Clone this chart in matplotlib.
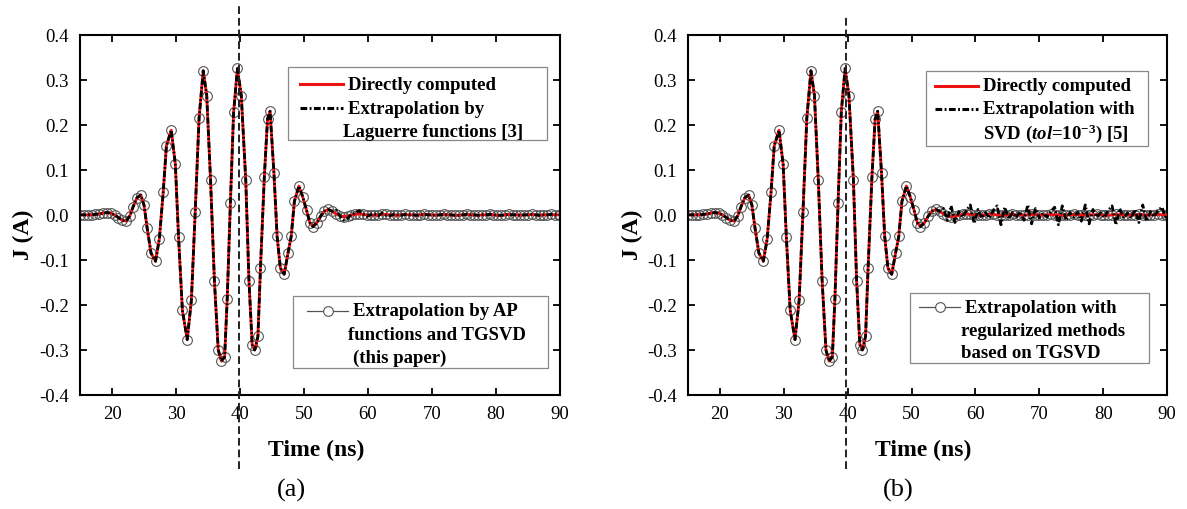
import matplotlib
matplotlib.use('Agg')
import matplotlib.pyplot as plt
from matplotlib.lines import Line2D
from matplotlib.patches import Rectangle

plt.rcParams['font.family'] = ['Liberation Serif', 'DejaVu Serif']
plt.rcParams['axes.unicode_minus'] = False
plt.rcParams['mathtext.fontset'] = 'custom'
plt.rcParams['mathtext.rm'] = 'Liberation Serif:bold'
plt.rcParams['mathtext.it'] = 'Liberation Serif:italic:bold'
plt.rcParams['mathtext.bf'] = 'Liberation Serif:bold'

# ---------------- data ----------------
t_main = [15.0, 15.6, 16.2, 16.8, 17.4, 18.0, 18.6, 19.2, 19.8, 20.4,
          21.0, 21.6, 22.2, 22.8, 23.3, 23.9, 24.5, 25.0, 25.5, 26.1,
          26.8, 27.4, 28.0, 28.5, 29.25, 29.9, 30.4, 31.0, 31.75, 32.4,
          33.0, 33.6, 34.25, 34.8, 35.4, 36.0, 36.6, 37.1, 37.6, 38.0,
          38.5, 39.0, 39.6, 40.2, 40.9, 41.4, 41.9, 42.3, 42.8, 43.2,
          43.8, 44.3, 44.7, 45.3, 45.8, 46.3, 46.9, 47.5, 48.0, 48.5,
          49.2, 49.8, 50.4, 50.9, 51.4, 52.0, 52.6, 53.2, 53.8, 54.4]
j_main = [0.000, 0.000, 0.000, 0.000, 0.001, 0.002, 0.004, 0.005, 0.004, 0.000,
          -0.006, -0.012, -0.014, -0.002, 0.018, 0.038, 0.044, 0.022, -0.030, -0.085,
          -0.103, -0.053, 0.050, 0.153, 0.188, 0.112, -0.050, -0.212, -0.277, -0.190,
          0.006, 0.214, 0.320, 0.265, 0.077, -0.146, -0.300, -0.325, -0.315, -0.187,
          0.027, 0.228, 0.325, 0.265, 0.077, -0.146, -0.288, -0.300, -0.270, -0.117,
          0.084, 0.213, 0.230, 0.093, -0.048, -0.118, -0.132, -0.085, -0.048, 0.030,
          0.064, 0.040, 0.010, -0.017, -0.026, -0.018, -0.003, 0.008, 0.012, 0.008]

t_tail = [55.0, 55.6, 56.2, 56.8, 57.4, 58.0, 58.6, 59.2, 59.8, 60.4,
          61.0, 61.6, 62.2, 62.8, 63.4, 64.0, 64.6, 65.2, 65.8, 66.4,
          67.0, 67.6, 68.2, 68.8, 69.4, 70.0, 70.6, 71.2, 71.8, 72.4,
          73.0, 73.6, 74.2, 74.8, 75.4, 76.0, 76.6, 77.2, 77.8, 78.4,
          79.0, 79.6, 80.2, 80.8, 81.4, 82.0, 82.6, 83.2, 83.8, 84.4,
          85.0, 85.6, 86.2, 86.8, 87.4, 88.0, 88.6, 89.2, 89.8, 90.0]
direct_tail = [0.002, -0.002, -0.004, -0.003, -0.001, 0.001, 0.002, 0.001, 0.000, -0.001,
               -0.001, 0.000, 0.001, 0.001, 0.000, -0.001, -0.001, 0.000, 0.001, 0.000,
               0.000, -0.001, 0.000, 0.001, 0.000, 0.000, -0.001, 0.000, 0.001, 0.000,
               0.000, -0.001, -0.001, 0.000, 0.001, 0.000, 0.000, -0.001, 0.000, 0.000,
               0.001, 0.000, -0.001, -0.001, 0.000, 0.001, 0.000, 0.000, -0.001, 0.000,
               0.000, 0.001, 0.000, -0.001, 0.000, 0.000, 0.001, 0.000, 0.000, 0.000]
laguerre_tail = [0.010, -0.002, -0.012, -0.008, 0.001, 0.004, 0.009, 0.002, -0.003, 0.000,
                 0.002, -0.002, 0.004, -0.001, -0.002, 0.001, 0.000, -0.001, 0.001, 0.000,
                 0.000, -0.001, 0.000, 0.001, 0.000, 0.000, -0.001, 0.000, 0.001, 0.000,
                 0.000, -0.001, -0.001, 0.000, 0.001, 0.000, 0.000, -0.001, 0.000, 0.000,
                 0.001, 0.000, -0.001, -0.001, 0.000, 0.001, 0.000, 0.000, -0.001, 0.000,
                 0.000, 0.001, 0.000, -0.001, 0.000, 0.000, 0.001, 0.000, 0.000, 0.000]
svd_tail = [0.014, -0.012, 0.020, -0.017, 0.007, -0.005, 0.010, 0.022, -0.019, 0.012,
            -0.007, 0.005, -0.007, 0.010, 0.020, -0.022, 0.017, -0.009, 0.005, -0.006,
            0.007, -0.012, 0.022, -0.020, 0.014, -0.007, 0.004, -0.005, 0.007, 0.017,
            -0.022, 0.020, -0.012, 0.005, -0.005, 0.006, -0.014, 0.022, -0.020, 0.012,
            -0.005, 0.004, -0.006, 0.010, 0.020, -0.022, 0.014, -0.007, 0.004, -0.007,
            0.012, -0.017, 0.022, -0.014, 0.007, -0.004, 0.010, 0.017, -0.005, 0.000]

time = t_main + t_tail
j_direct = j_main + direct_tail
j_laguerre = j_main + laguerre_tail
j_svd = j_main + svd_tail
j_tgsvd = j_main + direct_tail

x_ticks = [20, 30, 40, 50, 60, 70, 80, 90]
y_ticks = [-0.4, -0.3, -0.2, -0.1, 0.0, 0.1, 0.2, 0.3, 0.4]
t_mark_a = 39.8
t_mark_b = 39.7

# ---------------- figure ----------------
W, H = 1187, 510
fig = plt.figure(figsize=(W / 100, H / 100), dpi=100)


def fx(x):
    return x / W


def fy(y):
    return 1 - y / H


ax_a = fig.add_axes([fx(80), fy(396), 480 / W, 360.3 / H])
ax_b = fig.add_axes([fx(688), fy(396), 479 / W, 360.3 / H])

RED = '#ee1111'
MK = '#555555'
DASHDOT = (0, (2.2, 0.8, 0.6, 0.8))


def style_axes(ax):
    ax.set_xlim(15, 90)
    ax.set_ylim(-0.4, 0.4)
    ax.set_xticks(x_ticks)
    ax.set_yticks(y_ticks)
    ax.set_yticklabels(['%.1f' % v for v in y_ticks])
    ax.tick_params(direction='in', length=5, width=1.3, top=True, right=True,
                   labelsize=13.5, pad=7)
    ax.tick_params(axis='y', pad=8)
    for s in ax.spines.values():
        s.set_linewidth(1.5)


for ax, jb, tm, top in ((ax_a, j_laguerre, t_mark_a, 1.0805), (ax_b, j_svd, t_mark_b, 1.0527)):
    style_axes(ax)
    ax.plot(time, j_tgsvd, color='#777777', lw=0.8, marker='o', ms=7,
            mfc='none', mec=MK, mew=0.8, zorder=2)
    ax.plot(time, j_direct, color=RED, lw=2.0, zorder=3)
    ax.plot(time, jb, color='black', lw=2.0, linestyle=DASHDOT, zorder=4)
    ax.axvline(tm, ymin=-0.2054, ymax=top, color='#222222', lw=1.4,
               linestyle=(0, (4, 2)), clip_on=False, zorder=5)

# axis labels and panel labels
for xc in (316, 923):
    fig.text(fx(xc), fy(450), 'Time (ns)', ha='center', va='center',
             fontsize=17, fontweight='bold')
for xc, lab in ((291, '(a)'), (898, '(b)')):
    fig.text(fx(xc), fy(490), lab, ha='center', va='center', fontsize=19)
for xc in (23, 632):
    fig.text(fx(xc), fy(235), 'J (A)', ha='center', va='center',
             fontsize=17, fontweight='bold', rotation=90)

LEG_FS = 13.5


def legend_box(x0, y0, x1, y1):
    fig.add_artist(Rectangle((fx(x0), fy(y1)), fx(x1) - fx(x0), fy(y0) - fy(y1),
                             transform=fig.transFigure, facecolor='white',
                             edgecolor='#888888', lw=0.9, zorder=6))


def leg_line(x0, x1, y, **kw):
    fig.add_artist(Line2D([fx(x0), fx(x1)], [fy(y), fy(y)],
                          transform=fig.transFigure, zorder=7, **kw))


def leg_text(x, y, s):
    fig.text(fx(x), fy(y), s, ha='left', va='center', fontsize=LEG_FS,
             fontweight='bold', zorder=8)


# (a) upper legend
legend_box(288, 68, 547, 141)
leg_line(300, 343, 85, color=RED, lw=2.2)
leg_text(348, 85, 'Directly computed')
leg_line(300, 343, 109, color='black', lw=2.2, linestyle=DASHDOT)
leg_text(348, 109, 'Extrapolation by')
leg_text(343, 133, 'Laguerre functions [3]')

# (a) lower legend
legend_box(293, 297, 548, 369)
leg_line(307, 348, 311.7, color='#555555', lw=0.9)
fig.add_artist(Line2D([fx(328)], [fy(311.7)], transform=fig.transFigure, marker='o',
                      ms=7, mfc='white', mec=MK, mew=0.8, lw=0, zorder=8))
leg_text(352.7, 311.7, 'Extrapolation by AP')
leg_text(348.3, 335, 'functions and TGSVD')
leg_text(352.7, 358.3, '(this paper)')

# (b) upper legend
legend_box(926, 72, 1148, 147)
leg_line(935, 978, 86.7, color=RED, lw=2.2)
leg_text(983, 86.7, 'Directly computed')
leg_line(935, 978, 110, color='black', lw=2.2, linestyle=DASHDOT)
leg_text(983, 110, 'Extrapolation with')
leg_text(983, 134, r'SVD ($\mathit{tol}$=10$^{-3}$) [5]')

# (b) lower legend
legend_box(910, 294, 1149, 364)
leg_line(919, 960, 308.3, color='#555555', lw=0.9)
fig.add_artist(Line2D([fx(939.5)], [fy(308.3)], transform=fig.transFigure, marker='o',
                      ms=7, mfc='white', mec=MK, mew=0.8, lw=0, zorder=8))
leg_text(965, 308.3, 'Extrapolation with')
leg_text(961, 331.7, 'regularized methods')
leg_text(961, 354, 'based on TGSVD')

fig.savefig('out.png', dpi=100)
